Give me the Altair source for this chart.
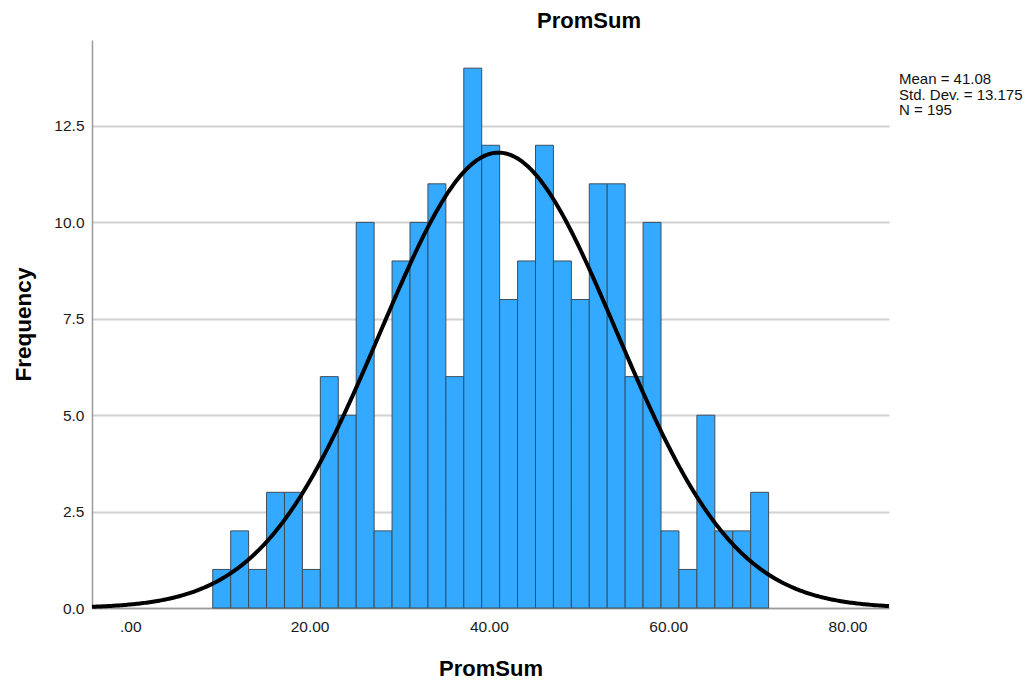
import altair as alt
import pandas as pd
import numpy as np

# ---- data ----
counts = [1, 2, 1, 3, 3, 1, 6, 5, 10, 2, 9, 10, 11, 6, 14, 12,
          8, 9, 12, 9, 8, 11, 11, 6, 10, 2, 1, 5, 2, 2, 3]
bin_first = 9.2
bin_width = 2.0
mean = 41.08
std_dev = 13.175
n_obs = 195
x_ticks = [0, 20, 40, 60, 80]
y_ticks = [0, 2.5, 5, 7.5, 10, 12.5]
x_domain = [-4.27, 84.63]
y_domain = [0, 14.73]
chart_title = "PromSum"
stats_lines = [f"Mean = {mean}", f"Std. Dev. = {std_dev}", f"N = {n_obs}"]

FONT = "Liberation Sans"

bins = pd.DataFrame({
    "start": [bin_first + i * bin_width for i in range(len(counts))],
    "count": counts,
})
bins["end"] = bins["start"] + bin_width

xs = np.linspace(x_domain[0], x_domain[1], 500)
scale_k = n_obs * bin_width / (std_dev * np.sqrt(2 * np.pi))
curve = pd.DataFrame({
    "x": xs,
    "y": scale_k * np.exp(-0.5 * ((xs - mean) / std_dev) ** 2),
})

xscale = alt.Scale(domain=x_domain, nice=False, zero=False)
yscale = alt.Scale(domain=y_domain, nice=False)

x_axis = alt.Axis(
    values=x_ticks, title="PromSum", grid=False, ticks=False,
    labelExpr="datum.value == 0 ? '.00' : format(datum.value, '.2f')",
    labelFontSize=15.5, labelColor="#1a1a1a", labelPadding=11, labelFont=FONT,
    titleFontSize=22, titleFont=FONT, titleFontWeight="bold", titleColor="#000000",
    titleY=67, titleBaseline="alphabetic",
    domainColor="#9a9a9a", domainWidth=1.5,
)
y_axis = alt.Axis(
    values=y_ticks, format=".1f", title="Frequency", grid=True, ticks=False,
    gridColor="#d2d2d2", gridWidth=2,
    labelFontSize=15.5, labelColor="#1a1a1a", labelPadding=8, labelFont=FONT,
    titleFontSize=22.5, titleFont=FONT, titleFontWeight="bold", titleColor="#000000",
    titleX=-62, titleBaseline="alphabetic",
    domainColor="#9a9a9a", domainWidth=1.5,
)

bars = alt.Chart(bins).mark_rect(
    color="#33aaff", stroke="#3d4d5c", strokeWidth=1
).encode(
    x=alt.X("start:Q", scale=xscale, axis=x_axis),
    x2="end:Q",
    y=alt.Y("count:Q", scale=yscale, axis=y_axis),
    y2=alt.datum(0),
)

line = alt.Chart(curve).mark_line(color="#000000", strokeWidth=4).encode(
    x=alt.X("x:Q", scale=xscale),
    y=alt.Y("y:Q", scale=yscale),
)

stats = alt.Chart(pd.DataFrame({"t": ["\n".join(stats_lines)]})).mark_text(
    align="left", baseline="alphabetic", fontSize=15, font=FONT,
    lineBreak="\n", lineHeight=15.5, color="#111111",
).encode(
    x=alt.value(807), y=alt.value(44), text="t:N",
)

title = alt.Chart(pd.DataFrame({"t": [chart_title]})).mark_text(
    align="center", baseline="alphabetic", fontSize=22, font=FONT,
    fontWeight="bold", color="#000000",
).encode(
    x=alt.value(497), y=alt.value(-12), text="t:N",
)

chart = alt.layer(bars, line, stats, title).properties(
    width=797, height=568,
    background="#ffffff",
    padding={"left": 92, "top": 40, "right": 140, "bottom": 72},
    autosize=alt.AutoSizeParams(type="none"),
).configure_view(strokeWidth=0)

chart.save("out.html", embed_options={"renderer": "svg", "actions": False})
